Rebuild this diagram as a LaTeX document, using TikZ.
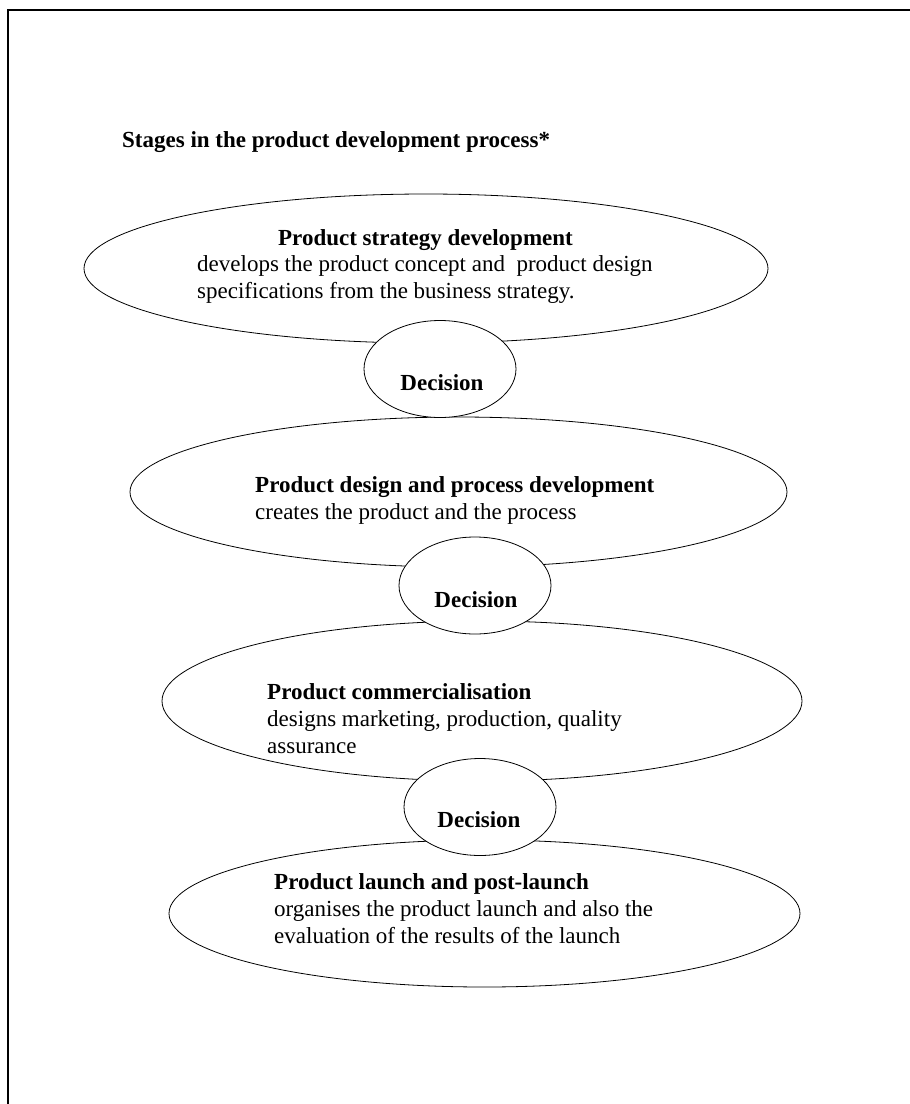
\documentclass[tikz,border=0pt]{standalone}
\usepackage{fontspec}
\setmainfont{Liberation Serif}
\usetikzlibrary{shapes.geometric}
\tikzset{st/.style = {ellipse, line width=0.8pt, inner sep=0pt, draw},
           de/.style = {ellipse, line width=0.8pt, inner sep=0pt, draw, fill=white,
                        minimum width=152pt, minimum height=97pt},
           tx/.style = {inner sep=0pt, align=left, anchor=base west,
                        font=\fontsize{23}{26.7}\selectfont},
           hd/.style = {inner sep=0pt, anchor=base,
                        font=\fontsize{23}{26.7}\selectfont\bfseries}}

\begin{document}
\begin{tikzpicture}[x=1pt, y=-1pt]
    \useasboundingbox (0,0) rectangle (910,1104);
    \draw[line width=2.2pt] (8,1104) -- (8,10) -- (910,10);
    \node[hd, anchor=base west] (ti) at (122,147) {Stages in the product development process*};
    % stages
    \node[st, minimum width=684pt, minimum height=149pt] (s1) at (426,268.5) {};
    \node[st, minimum width=657pt, minimum height=150pt] (s2) at (458.5,492) {};
    \node[st, minimum width=640pt, minimum height=160pt] (s3) at (482,701) {};
    \node[st, minimum width=631pt, minimum height=147pt] (s4) at (484.5,913.5) {};
    % decisions
    \node[de] (d1) at (440,369) {};
    \node[de] (d2) at (475,585.5) {};
    \node[de] (d3) at (480,807) {};
    \node[hd] (d1t) at (442,390) {Decision};
    \node[hd] (d2t) at (476,607) {Decision};
    \node[hd] (d3t) at (479,827) {Decision};
    % texts (base = last line)
    \node[hd] (s1h) at (425.5,245) {Product strategy development};
    \node[tx] (s1t) at (197,298) {develops the product concept and~ product design\\
                                  specifications from the business strategy.};
    \node[tx] (s2t) at (255,519) {\textbf{Product design and process development}\\
                                  creates the product and the process};
    \node[tx] (s3t) at (267,753.3) {\textbf{Product commercialisation}\\
                                  designs marketing, production, quality\\
                                  assurance};
    \node[tx] (s4t) at (274,943.3) {\textbf{Product launch and post-launch}\\
                                  organises the product launch and also the\\
                                  evaluation of the results of the launch};
\end{tikzpicture}
\end{document}
